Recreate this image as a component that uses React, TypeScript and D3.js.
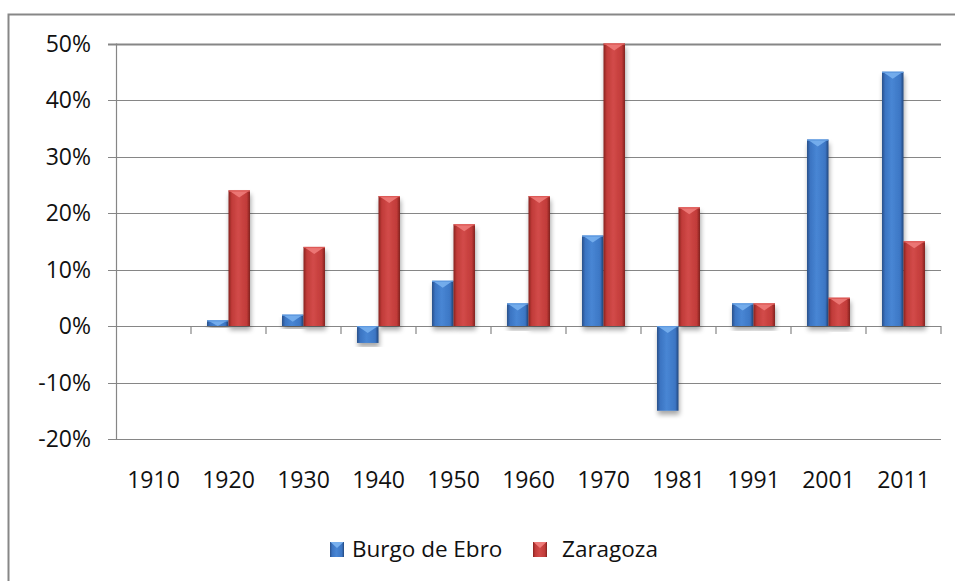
import React from "react";
import * as d3 from "d3";

const categories = ["1910", "1920", "1930", "1940", "1950", "1960", "1970", "1981", "1991", "2001", "2011"];
const burgoValues: (number | null)[] = [null, 1, 2, -3, 8, 4, 16, -15, 4, 33, 45];
const zaragozaValues: (number | null)[] = [null, 24, 14, 23, 18, 23, 50, 21, 4, 5, 15];
const seriesNames = ["Burgo de Ebro", "Zaragoza"];
const yTicks = [-20, -10, 0, 10, 20, 30, 40, 50];

const W = 955;
const H = 581;
const left = 116;
const right = 941;
const top = 43.5;
const bottom = 439;
const FONT = "'Open Sans', 'Noto Sans', sans-serif";

const palettes = [
  { id: "gBlue", stops: ["#284f88", "#3b74c2", "#4886d4", "#3c76c4", "#23477c"], cap: "#78b0ee", capEdge: "#5f9ae0" },
  { id: "gRed", stops: ["#86221f", "#c03a38", "#d24b49", "#c13b39", "#80201d"], cap: "#ee7b79", capEdge: "#dd5a57" },
];

export default function App() {
  const y = d3.scaleLinear().domain([-20, 50]).range([bottom, top]);
  const x = d3.scaleBand<string>().domain(categories).range([left, right]).paddingInner(0.427).paddingOuter(0.2135);
  const xs = d3.scaleBand<string>().domain(seriesNames).range([0, x.bandwidth()]).padding(0);
  const step = x.step();
  const series = [burgoValues, zaragozaValues];

  const bar = (cx: number, val: number, si: number, key: string) => {
    const w = xs.bandwidth();
    const y0 = y(0);
    const y1 = y(val);
    const t = Math.min(y0, y1);
    const h = Math.abs(y1 - y0);
    const p = palettes[si];
    const capH = Math.min(7, h);
    return (
      <g key={key}>
        <rect x={cx} y={t} width={w} height={h} fill={`url(#${p.id})`} filter="url(#shadow)" />
        <polygon
          points={`${cx + 0.5},${t} ${cx + w - 0.5},${t} ${cx + w / 2},${t + capH}`}
          fill={p.cap}
          opacity={0.9}
        />
        <rect x={cx} y={t} width={w} height={1.2} fill={p.capEdge} />
      </g>
    );
  };

  const legendItems = [
    { x: 330, tx: 352, name: seriesNames[0], si: 0 },
    { x: 533, tx: 562, name: seriesNames[1], si: 1 },
  ];

  return (
    <svg width={W} height={H} style={{ position: "absolute", left: 0, top: 0, background: "#fff" }}>
      <defs>
        {palettes.map((p) => (
          <linearGradient key={p.id} id={p.id} x1="0" x2="1" y1="0" y2="0">
            <stop offset="0" stopColor={p.stops[0]} />
            <stop offset="0.15" stopColor={p.stops[1]} />
            <stop offset="0.45" stopColor={p.stops[2]} />
            <stop offset="0.85" stopColor={p.stops[3]} />
            <stop offset="1" stopColor={p.stops[4]} />
          </linearGradient>
        ))}
        <filter id="shadow" x="-30%" y="-10%" width="160%" height="130%">
          <feGaussianBlur in="SourceAlpha" stdDeviation="2.5" />
          <feOffset dx="1" dy="4" result="ob" />
          <feComponentTransfer>
            <feFuncA type="linear" slope="0.35" />
          </feComponentTransfer>
          <feMerge>
            <feMergeNode />
            <feMergeNode in="SourceGraphic" />
          </feMerge>
        </filter>
      </defs>
      <rect x={0} y={0} width={W} height={H} fill="#fff" />
      <rect x={8.5} y={14.5} width={W + 20} height={H + 20} fill="none" stroke="#878787" strokeWidth={2} />

      {/* gridlines */}
      {yTicks.map((t) => (
        <line key={t} x1={108} x2={right} y1={Math.round(y(t)) + 0.5} y2={Math.round(y(t)) + 0.5} stroke="#868686" strokeWidth={t === 50 ? 2 : 1.2} />
      ))}
      {/* vertical axis */}
      <line x1={left + 0.5} x2={left + 0.5} y1={top} y2={bottom + 0.5} stroke="#868686" strokeWidth={1.2} />
      {/* category ticks */}
      {categories.map((c, i) => {
        const xx = left + step * (i + 1);
        return <line key={c} x1={xx} x2={xx} y1={y(0)} y2={y(0) + 8} stroke="#868686" strokeWidth={1.2} />;
      })}

      {/* bars */}
      {categories.map((c, i) =>
        series.map((s, si) => {
          const v = s[i];
          if (v === null || v === undefined) return null;
          return bar((x(c) as number) + (xs(seriesNames[si]) as number), v, si, `${c}-${si}`);
        })
      )}

      {/* y labels */}
      {yTicks.map((t) => (
        <text key={t} x={91} y={y(t)} dy="0.36em" textAnchor="end" fontFamily={FONT} fontSize={23} fill="#111">
          {`${t}%`}
        </text>
      ))}
      {/* x labels */}
      {categories.map((c) => (
        <text key={c} x={(x(c) as number) + x.bandwidth() / 2} y={488} textAnchor="middle" fontFamily={FONT} fontSize={23} fill="#111">
          {c}
        </text>
      ))}

      {/* legend */}
      {legendItems.map((l) => {
        const p = palettes[l.si];
        return (
          <g key={l.name}>
            <rect x={l.x} y={542} width={14} height={15} fill={`url(#${p.id})`} />
            <polygon points={`${l.x + 0.5},542 ${l.x + 13.5},542 ${l.x + 7},548`} fill={p.cap} />
            <text x={l.tx} y={557} fontFamily={FONT} fontSize={22.5} fill="#111">
              {l.name}
            </text>
          </g>
        );
      })}
    </svg>
  );
}
